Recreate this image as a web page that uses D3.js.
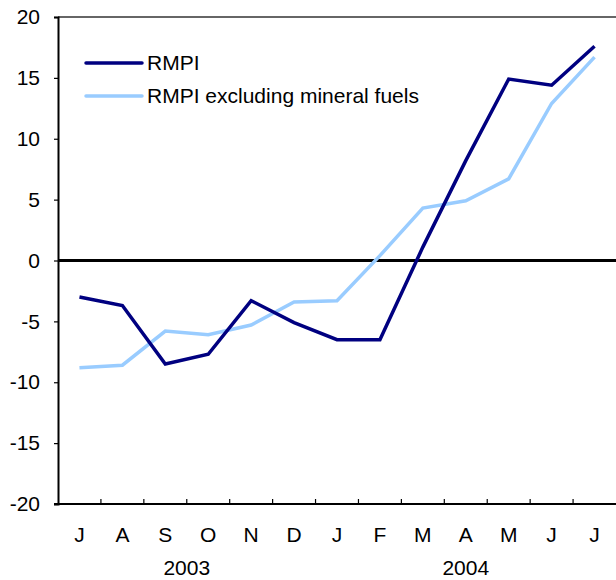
<!DOCTYPE html>
<html>
<head>
<meta charset="utf-8">
<script src="https://cdn.jsdelivr.net/npm/d3@7"></script>
<style>
  body { margin: 0; background: #fff; }
  svg { display: block; font-family: Arial, "Liberation Sans", sans-serif; }
  .axis text { font-size: 21px; fill: #000; }
</style>
</head>
<body>
<div id="chart"></div>
<script>
// months Jul 2003 .. Jul 2004
const months = ['J', 'A', 'S', 'O', 'N', 'D', 'J', 'F', 'M', 'A', 'M', 'J', 'J'];
const years = [{ label: '2003', from: 0, to: 5 }, { label: '2004', from: 6, to: 12 }];
const rmpi = [-3.0, -3.7, -8.5, -7.7, -3.3, -5.1, -6.5, -6.5, 1.1, 8.2, 14.9, 14.4, 17.6];
const rmpiExFuels = [-8.8, -8.6, -5.8, -6.1, -5.3, -3.4, -3.3, 0.4, 4.3, 4.9, 6.7, 12.9, 16.7];
const yTicks = [-20, -15, -10, -5, 0, 5, 10, 15, 20];
const seriesNames = ['RMPI', 'RMPI excluding mineral fuels'];

const width = 616, height = 580;
const margin = { top: 17, right: 0, bottom: 76, left: 58 };

const svg = d3.select('#chart').append('svg')
    .attr('width', width)
    .attr('height', height);

const x = d3.scaleBand()
    .domain(d3.range(months.length))
    .range([margin.left, width - margin.right]);
const y = d3.scaleLinear()
    .domain([-20, 20])
    .range([height - margin.bottom, margin.top]);

// top frame line
svg.append('line')
    .attr('x1', margin.left).attr('x2', width)
    .attr('y1', y(20)).attr('y2', y(20))
    .attr('stroke', '#333').attr('stroke-width', 1.5);

// y axis (hyphen minus like the original)
const yAxis = svg.append('g')
    .attr('class', 'axis')
    .attr('transform', `translate(${margin.left},0)`)
    .call(d3.axisLeft(y).tickValues(yTicks).tickSize(4).tickPadding(14).tickFormat(d => String(d)));
yAxis.select('.domain').attr('stroke', '#000').attr('stroke-width', 2);
yAxis.selectAll('.tick line').attr('stroke', '#000').attr('stroke-width', 1.2);

// x axis: ticks at band boundaries, pointing up
const xAxis = svg.append('g')
    .attr('class', 'axis')
    .attr('transform', `translate(0,${y(-20)})`);
xAxis.append('line')
    .attr('x1', margin.left - 4).attr('x2', width)
    .attr('stroke', '#000').attr('stroke-width', 2);
xAxis.selectAll('.bt')
    .data(d3.range(1, months.length))
    .join('line')
    .attr('class', 'bt')
    .attr('x1', i => x(i)).attr('x2', i => x(i))
    .attr('y1', 0).attr('y2', -5)
    .attr('stroke', '#000').attr('stroke-width', 1.2);
xAxis.selectAll('.mlab')
    .data(months)
    .join('text')
    .attr('class', 'mlab')
    .attr('x', (d, i) => x(i) + x.bandwidth() / 2)
    .attr('y', 38)
    .attr('text-anchor', 'middle')
    .text(d => d);
xAxis.selectAll('.ylab')
    .data(years)
    .join('text')
    .attr('class', 'ylab')
    .attr('x', d => (x(d.from) + x(d.to) + x.bandwidth()) / 2)
    .attr('y', 71)
    .attr('text-anchor', 'middle')
    .text(d => d.label);

// zero line
svg.append('line')
    .attr('x1', margin.left).attr('x2', width)
    .attr('y1', y(0)).attr('y2', y(0))
    .attr('stroke', '#000').attr('stroke-width', 3);

const line = d3.line()
    .x((d, i) => x(i) + x.bandwidth() / 2)
    .y(d => y(d));

const colors = ['#000080', '#99ccff'];

svg.append('path')
    .datum(rmpiExFuels)
    .attr('fill', 'none')
    .attr('stroke', colors[1])
    .attr('stroke-width', 3.5)
    .attr('d', line);
svg.append('path')
    .datum(rmpi)
    .attr('fill', 'none')
    .attr('stroke', colors[0])
    .attr('stroke-width', 3.5)
    .attr('d', line);

// legend
const legend = svg.append('g').attr('class', 'axis');
seriesNames.forEach((name, i) => {
    const ly = 63 + i * 33;
    legend.append('line')
        .attr('x1', 86).attr('x2', 142)
        .attr('y1', ly).attr('y2', ly)
        .attr('stroke', colors[i]).attr('stroke-width', 3.5)
        .attr('stroke-linecap', 'round');
    legend.append('text')
        .attr('x', 147).attr('y', ly + 7)
        .text(name);
});
</script>
</body>
</html>
